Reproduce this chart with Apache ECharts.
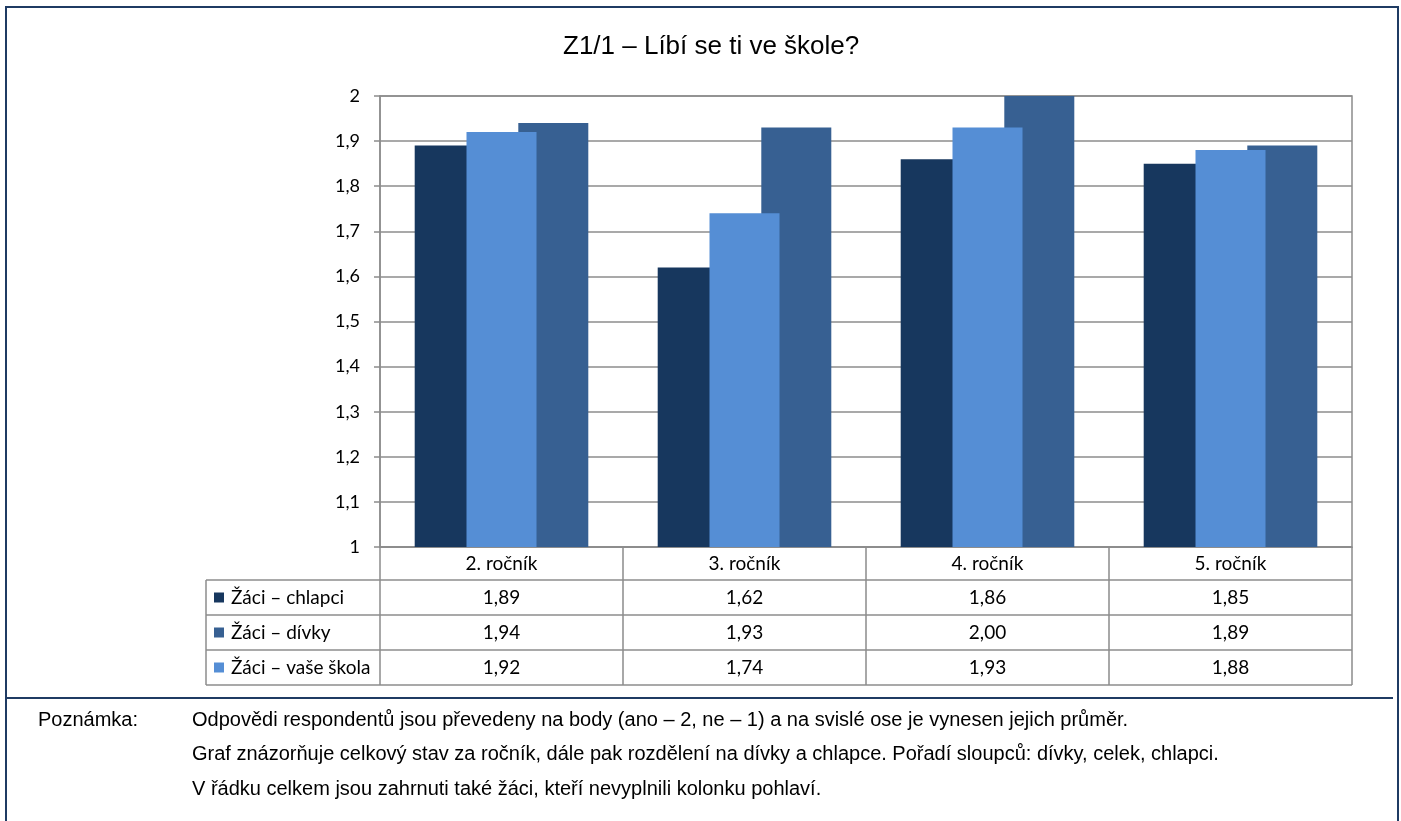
<!DOCTYPE html>
<html><head><meta charset="utf-8">
<script src="https://cdn.jsdelivr.net/npm/echarts@6/dist/echarts.min.js"></script>
<style>html,body{margin:0;padding:0;background:#fff}#c{width:1401px;height:821px}</style>
</head><body><div id="c"></div>
<script>
const categories = ['2. ročník', '3. ročník', '4. ročník', '5. ročník'];
const rowNames = ['Žáci – chlapci', 'Žáci – dívky', 'Žáci – vaše škola'];
const chlapci = [1.89, 1.62, 1.86, 1.85];
const divky = [1.94, 1.93, 2.00, 1.89];
const vaseSkola = [1.92, 1.74, 1.93, 1.88];
const yTickLabels = ['1', '1,1', '1,2', '1,3', '1,4', '1,5', '1,6', '1,7', '1,8', '1,9', '2'];
const titleText = 'Z1/1 – Líbí se ti ve škole?';
const noteLabel = 'Poznámka:';
const notes = [
  'Odpovědi respondentů jsou převedeny na body (ano – 2, ne – 1) a na svislé ose je vynesen jejich průměr.',
  'Graf znázorňuje celkový stav za ročník, dále pak rozdělení na dívky a chlapce. Pořadí sloupců: dívky, celek, chlapci.',
  'V řádku celkem jsou zahrnuti také žáci, kteří nevyplnili kolonku pohlaví.'
];

const colors = { chlapci: '#17375E', divky: '#376092', skola: '#558ED5' };
const rowValues = [chlapci, divky, vaseSkola];
const rowColors = [colors.chlapci, colors.divky, colors.skola];
const GRAY = '#8C8C8C';
const TFONT = 'Lato, "Noto Sans", sans-serif';
const TSIZE = 19;
const G = { left: 380, top: 96, right: 1352, bottom: 547 };
const HEAD_H = 33, ROW_H = 35, LEG_X = 206;

const fmt = v => v.toFixed(2).replace('.', ',');

const chart = echarts.init(document.getElementById('c'), null, { renderer: 'canvas' });

const xAxes = [{
  type: 'category', data: categories, gridIndex: 0, position: 'bottom',
  axisLine: { show: true, lineStyle: { color: GRAY, width: 1.5 } },
  axisTick: { show: true, length: HEAD_H + ROW_H * 3, lineStyle: { color: GRAY, width: 1.5 } },
  axisLabel: { color: '#000', fontFamily: TFONT, fontSize: TSIZE, margin: 7 },
  splitLine: { show: false }
}];
rowValues.forEach((vals, i) => {
  xAxes.push({
    type: 'category', data: categories, gridIndex: 0, position: 'bottom',
    offset: HEAD_H + ROW_H * i,
    axisLine: { show: false }, axisTick: { show: false }, splitLine: { show: false },
    axisLabel: { color: '#000', fontFamily: TFONT, fontSize: TSIZE, margin: 8,
      formatter: (v, idx) => fmt(vals[idx]) }
  });
});

const graphics = [];
graphics.push({ type: 'rect', shape: { x: 6, y: 7, width: 1392, height: 830 },
  style: { fill: 'none', stroke: '#1F3B63', lineWidth: 2 }, silent: true });
graphics.push({ type: 'line', shape: { x1: 6, y1: 698, x2: 1393, y2: 698 },
  style: { stroke: '#1F3B63', lineWidth: 2 }, silent: true });
for (let i = 0; i <= 3; i++) {
  const y = G.bottom + HEAD_H + ROW_H * i;
  graphics.push({ type: 'line', shape: { x1: LEG_X, y1: y, x2: G.right, y2: y },
    style: { stroke: GRAY, lineWidth: 1.5 }, silent: true });
}
graphics.push({ type: 'line', shape: { x1: LEG_X, y1: G.bottom + HEAD_H, x2: LEG_X, y2: G.bottom + HEAD_H + ROW_H * 3 },
  style: { stroke: GRAY, lineWidth: 1.5 }, silent: true });
rowNames.forEach((name, i) => {
  const cy = G.bottom + HEAD_H + ROW_H * i + ROW_H / 2;
  graphics.push({ type: 'rect', shape: { x: 214, y: cy - 5, width: 10, height: 10 },
    style: { fill: rowColors[i] }, silent: true });
  graphics.push({ type: 'text', x: 231, y: cy,
    style: { text: name, fill: '#000', font: TSIZE + 'px ' + TFONT, verticalAlign: 'middle', align: 'left' }, silent: true });
});
const NFONT = '20px "Liberation Sans", Arial, sans-serif';
graphics.push({ type: 'text', x: 38, y: 720,
  style: { text: noteLabel, fill: '#000', font: NFONT, verticalAlign: 'middle' }, silent: true });
notes.forEach((t, i) => {
  graphics.push({ type: 'text', x: 192, y: 720 + 34.5 * i,
    style: { text: t, fill: '#000', font: NFONT, verticalAlign: 'middle' }, silent: true });
});

const barBase = { type: 'bar', barWidth: 70, barGap: '-26%', xAxisIndex: 0, yAxisIndex: 0 };

chart.setOption({
  animation: false,
  backgroundColor: '#fff',
  title: { text: titleText, left: 558, top: 29,
    textStyle: { fontFamily: '"Liberation Sans", Arial, sans-serif', fontSize: 26, fontWeight: 'normal', color: '#000' } },
  grid: { left: G.left, top: G.top, right: 1401 - G.right, bottom: 821 - G.bottom,
    show: true, borderColor: GRAY, borderWidth: 1.5, backgroundColor: 'transparent' },
  xAxis: xAxes,
  yAxis: {
    type: 'value', min: 1, max: 2, interval: 0.1,
    axisLine: { show: true, lineStyle: { color: GRAY, width: 1.5 } },
    axisTick: { show: true, length: 6, lineStyle: { color: GRAY, width: 1.5 } },
    axisLabel: { color: '#000', fontFamily: TFONT, fontSize: 18, margin: 20,
      formatter: (v) => yTickLabels[Math.round((v - 1) * 10)] },
    splitLine: { show: true, lineStyle: { color: GRAY, width: 1.5 } }
  },
  series: [
    Object.assign({}, barBase, { name: rowNames[0], data: chlapci, itemStyle: { color: colors.chlapci }, z: 2 }),
    Object.assign({}, barBase, { name: rowNames[2], data: vaseSkola, itemStyle: { color: colors.skola }, z: 4 }),
    Object.assign({}, barBase, { name: rowNames[1], data: divky, itemStyle: { color: colors.divky }, z: 3 })
  ],
  graphic: graphics
});
</script></body></html>
